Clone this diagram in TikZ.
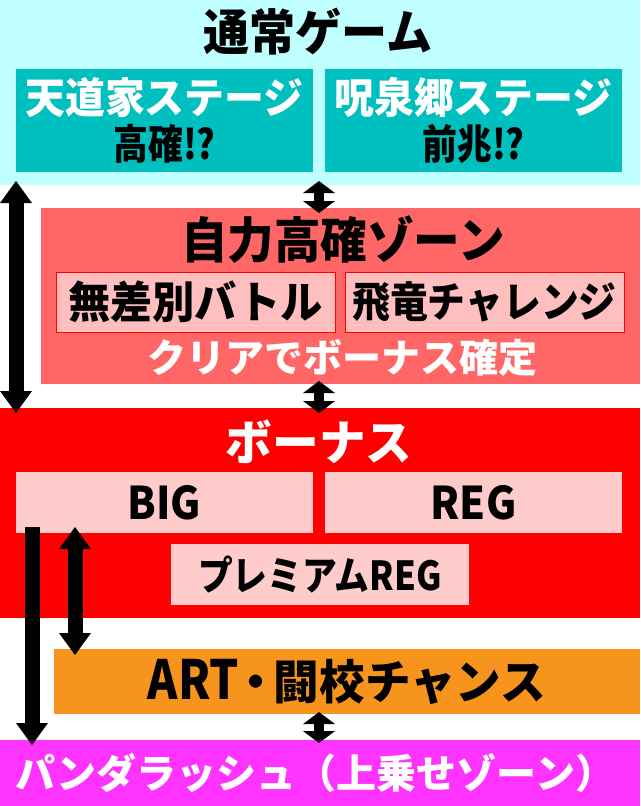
\documentclass[tikz,border=0pt]{standalone}
\usepackage{graphicx}
\usepackage{fontspec}
\newfontfamily\jp{Noto Sans CJK JP}
\usetikzlibrary{arrows.meta}
\definecolor{cyanbg}{RGB}{192,255,255}
\definecolor{tealbox}{RGB}{0,191,191}
\definecolor{salmon}{RGB}{255,102,102}
\definecolor{pinkbox}{RGB}{255,191,191}
\definecolor{palered}{RGB}{255,204,204}
\definecolor{bonusred}{RGB}{255,0,0}
\definecolor{artorange}{RGB}{247,148,29}
\definecolor{pandapink}{RGB}{255,51,255}
% size, horizontal squeeze, text
\newcommand\cz[3]{\scalebox{#2}[1]{\fontsize{#1}{#1}\selectfont #3}}
\begin{document}
\begin{tikzpicture}[x=1pt, y=-1pt, font=\jp\bfseries, line join=round,
    box/.style={inner sep=0pt, outer sep=0pt, align=center},
    bigarr/.style={line width=15pt, {Triangle[width=32pt,length=22pt,line width=0pt]}-{Triangle[width=32pt,length=22pt,line width=0pt]}},
    downarr/.style={line width=15pt, -{Triangle[width=32pt,length=22pt,line width=0pt]}},
    midarr/.style={line width=10pt, {Triangle[width=32pt,length=12pt,line width=0pt]}-{Triangle[width=32pt,length=12pt,line width=0pt]}}]
    \useasboundingbox (0,0) rectangle (640,806);
    % bands
    \node[box, fill=cyanbg, minimum width=640pt, minimum height=185pt] (normal) at (320,92.5) {};
    \node[box, fill=salmon, minimum width=599pt, minimum height=176pt] (zone) at (340.5,296) {};
    \node[box, fill=bonusred, minimum width=640pt, minimum height=210pt] (bonus) at (320,513) {};
    \node[box, fill=artorange, minimum width=586pt, minimum height=65pt] (art) at (347,681.5)
      {\cz{54}{0.85}{ART}\kern-6pt\cz{47}{1}{・}\kern-6pt\cz{47}{0.97}{闘校チャンス}};
    \node[box, fill=pandapink, minimum width=640pt, minimum height=66pt, text=white] (panda) at (320,773)
      {\hspace*{-10pt}\cz{40}{1}{パンダラッシュ（上乗せゾーン）}};
    % titles
    \node (normaltitle) at (318,32) {\cz{49}{0.94}{通常ゲーム}};
    \node (zonetitle) at (343,240) {\cz{49}{0.95}{自力高確ゾーン}};
    \node[text=white] (clear) at (342,358) {\cz{39}{1}{クリアでボーナス確定}};
    \node[text=white] (bonustitle) at (319,442) {\cz{48}{0.97}{ボーナス}};
    % stages
    \foreach \n/\x/\a/\b in {stageA/164.5/天道家ステージ/高確!?, stageB/473.5/呪泉郷ステージ/前兆!?}
    \node[box, fill=tealbox, minimum width=297pt, minimum height=103pt] (\n) at (\x,120.5)
      {{\color{white}\cz{42}{0.95}{\a}}\\[5pt]\cz{41}{0.85}{\b}};
    % zone missions
    \node[box, fill=pinkbox, draw=bonusred, line width=1pt, minimum width=279pt, minimum height=60pt] (battle) at (195.5,302) {\cz{44}{0.96}{無差別バトル}};
    \node[box, fill=pinkbox, draw=bonusred, line width=1pt, minimum width=279pt, minimum height=60pt] (dragon) at (484.5,302) {\cz{42}{0.9}{飛竜チャレンジ}};
    % bonus kinds
    \foreach \n/\x/\y/\w/\t/\s/\f in {big/164.5/502.5/297/BIG/45/0.92, reg/473.5/502.5/297/REG/45/0.92, preg/320/574.5/298/プレミアムREG/40/0.87}
    \node[box, fill=palered, minimum width=\w pt, minimum height=61pt] (\n) at (\x,\y) {\cz{\s}{\f}{\t}};
    % arrows
    \draw[bigarr] ([xshift=16pt,yshift=4pt]normal.south west) -- ([xshift=16pt,yshift=-5pt]bonus.north west);
    \draw[midarr] ([xshift=-1pt,yshift=4pt]normal.south) -- ([xshift=-1pt,yshift=-5pt]normal.south |- zone.north);
    \draw[midarr] ([xshift=-1pt,yshift=3pt]normal.south |- zone.south) -- ([xshift=-1pt,yshift=-5pt]bonus.north);
    \draw[midarr] ([xshift=-1pt,yshift=2pt]panda.north |- art.south) -- ([xshift=-1pt,yshift=-3pt]panda.north);
    \draw[downarr] ([xshift=16pt,yshift=6pt]big.south west) -- ([xshift=16pt,yshift=-5pt]big.south west |- panda.north);
    \draw[bigarr] ([xshift=59pt,yshift=6pt]big.south west) -- ([xshift=59pt,yshift=-6pt]big.south west |- art.north);
\end{tikzpicture}
\end{document}
